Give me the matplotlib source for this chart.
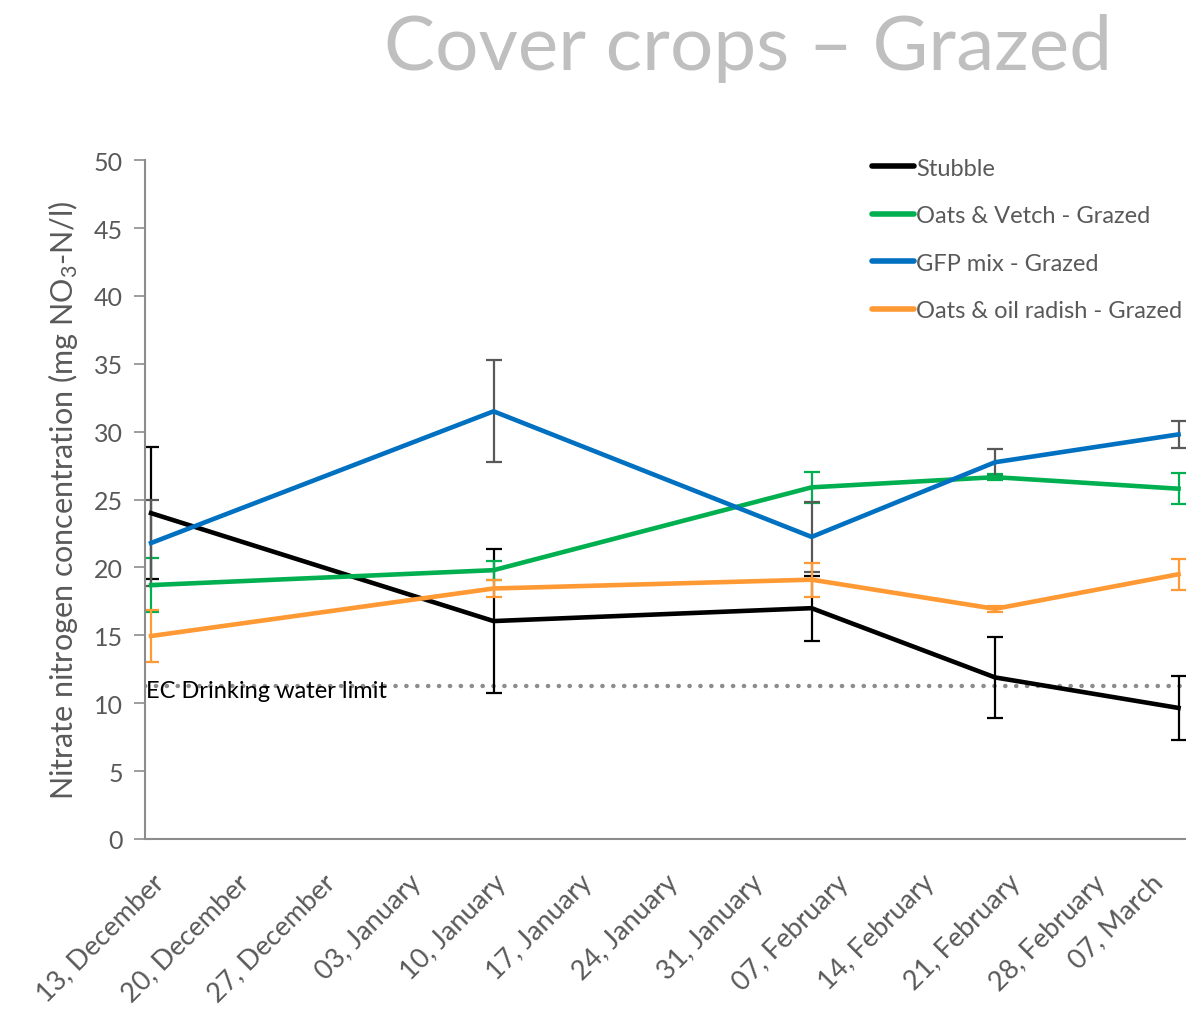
import matplotlib
matplotlib.use("Agg")
import matplotlib.pyplot as plt
import matplotlib.transforms as mtransforms
from matplotlib.lines import Line2D

# Sampling dates as days after 13 December
days = [0, 28, 54, 69, 84]

tick_days = list(range(0, 85, 7))
tick_labels = [
    "13, December", "20, December", "27, December", "03, January",
    "10, January", "17, January", "24, January", "31, January",
    "07, February", "14, February", "21, February", "28, February",
    "07, March",
]

stubble = [24.0, 16.05, 17.0, 11.9, 9.65]
stubble_err = [4.85, 5.3, 2.4, 3.0, 2.35]

oats_vetch = [18.7, 19.8, 25.9, 26.65, 25.8]
oats_vetch_err = [2.0, 0.7, 1.15, 0.2, 1.15]

gfp_mix = [21.8, 31.5, 22.25, 27.75, 29.8]
gfp_mix_err = [3.2, 3.75, 2.6, 1.0, 1.0]

oats_radish = [14.95, 18.45, 19.1, 16.95, 19.5]
oats_radish_err = [1.95, 0.65, 1.25, 0.2, 1.15]

ec_limit = 11.3

plt.rcParams["font.family"] = ["Lato", "DejaVu Sans"]
plt.rcParams["mathtext.fontset"] = "custom"
plt.rcParams["mathtext.rm"] = "Lato"
plt.rcParams["mathtext.it"] = "Lato:italic"

grey = "#595959"

fig = plt.figure(figsize=(11.93, 10.2), dpi=100)
ax = fig.add_axes([0.1215, 0.1765, 0.8715, 0.6655])

series = [
    ("Stubble", stubble, stubble_err, "#000000", "#000000"),
    ("Oats & Vetch - Grazed", oats_vetch, oats_vetch_err, "#00B050", "#00B050"),
    ("GFP mix - Grazed", gfp_mix, gfp_mix_err, "#0070C0", grey),
    ("Oats & oil radish - Grazed", oats_radish, oats_radish_err, "#FF9933", "#FF9933"),
]

handles = []
for label, vals, errs, color, ecolor in series:
    ax.errorbar(days, vals, yerr=errs, color=color, ecolor=ecolor,
                lw=3.3, elinewidth=1.6, capsize=6, capthick=1.6)
    handles.append(Line2D([], [], color=color, lw=4, solid_capstyle="round",
                          label=label))

ax.axhline(ec_limit, color="#8c8c8c", lw=3.2, ls=(0, (0.05, 2.4)),
           dash_capstyle="round", zorder=0)
ax.text(-0.42, ec_limit - 0.4, "EC Drinking water limit", fontsize=17,
        color="black", va="center", ha="left")

ax.set_xlim(-0.5, 84.5)
ax.set_ylim(0, 50)
ax.set_yticks(range(0, 51, 5))
ax.set_xticks(tick_days)
ax.set_xticklabels(tick_labels, rotation=45, ha="right", rotation_mode="anchor")
ax.tick_params(axis="x", length=0, pad=22, labelsize=19.5, labelcolor=grey)
ax.tick_params(axis="y", length=8, width=1.2, color="#8c8c8c", pad=8,
               labelsize=18, labelcolor=grey)

# the last date label is pulled left so it stays inside the figure
last = ax.get_xticklabels()[-1]
last.set_transform(last.get_transform()
                   + mtransforms.ScaledTranslation(-0.28, 0, fig.dpi_scale_trans))

for side in ["top", "right"]:
    ax.spines[side].set_visible(False)
for side in ["left", "bottom"]:
    ax.spines[side].set_color("#8c8c8c")
    ax.spines[side].set_linewidth(1.5)

ax.set_ylabel(r"Nitrate nitrogen concentration (mg NO$_3$-N/l)",
              fontsize=22, color=grey, labelpad=10)

ax.legend(handles=handles, loc="upper right", bbox_to_anchor=(1.018, 1.035),
          frameon=False, fontsize=17, handlelength=1.75, handletextpad=0.1,
          labelspacing=1.12, labelcolor=grey)

fig.text(0.627, 0.952, "Cover crops \u2013 Grazed", fontsize=55,
         color="#BFBFBF", ha="center", va="center")

fig.savefig("out.png", dpi=100)
